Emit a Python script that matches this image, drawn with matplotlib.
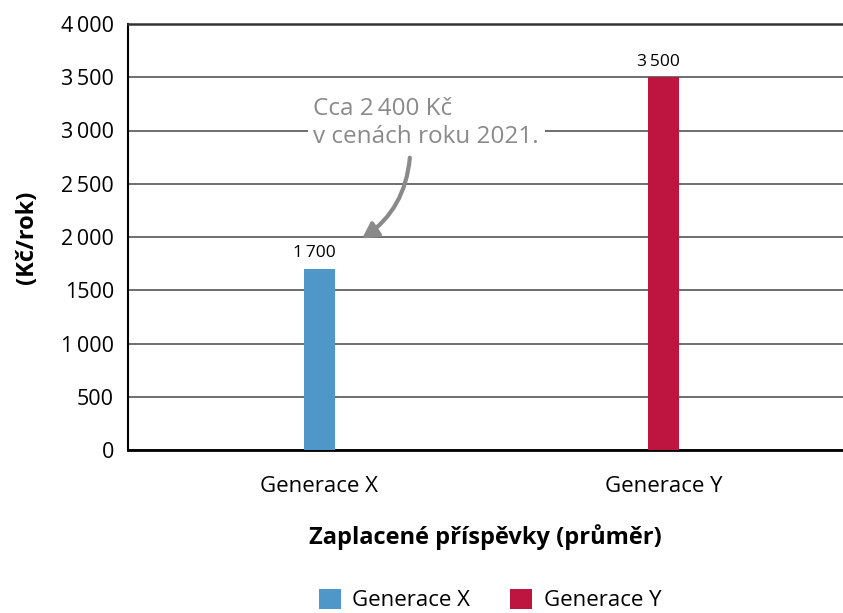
import matplotlib
matplotlib.use("Agg")
import matplotlib.pyplot as plt
from matplotlib.patches import Patch

categories = ["Generace X", "Generace Y"]
values = [1700, 3500]
value_labels = ["1\u2009700", "3\u2009500"]
yticks = [0, 500, 1000, 1500, 2000, 2500, 3000, 3500, 4000]
ytick_labels = ["0", "500", "1\u2009000", "1500", "2\u2009000", "2\u2009500", "3\u2009000", "3\u2009500", "4\u2009000"]
colors = ["#4f97c9", "#be1540"]

plt.rcParams['font.family'] = ['Open Sans', 'DejaVu Sans']

fig = plt.figure(figsize=(8.43, 6.13), dpi=100)
W, H = 843, 613
ax = fig.add_axes([128 / W, 1 - 450 / H, (843 - 128) / W, (450 - 24) / H])

x = list(range(len(categories)))
ax.bar(x, values, width=0.09, color=colors, zorder=3)
ax.set_xlim(-0.556, 1.52)
ax.set_ylim(0, 4000)
ax.set_yticks(yticks)
ax.set_yticklabels(ytick_labels, fontsize=15.5)
ax.set_xticks(x)
ax.set_xticklabels(categories, fontsize=16)
ax.tick_params(axis='y', length=0, pad=10)
ax.tick_params(axis='x', length=0, pad=19)
ax.grid(axis='y', color='#555555', linewidth=1.2, zorder=0)
ax.spines['right'].set_visible(False)
ax.spines['top'].set_linewidth(1.8)
ax.spines['top'].set_color('#333333')
ax.spines['left'].set_linewidth(1.5)
ax.spines['bottom'].set_linewidth(2)

for xi, v, lab in zip(x, values, value_labels):
    ax.text(xi - 0.015, v + 70, lab, ha='center', va='bottom', fontsize=12.5)

ax.set_ylabel("(Kč/rok)", fontsize=17, fontweight='bold', labelpad=16)
ax.set_xlabel("Zaplacené příspěvky (průměr)", fontsize=17, fontweight='bold', labelpad=19)

# annotation
ax.text(0.31, 3070, "Cca 2\u2009400 Kč\nv cenách roku 2021.", ha='center', va='center',
        multialignment='left', fontsize=17.5, color='#8a8a8a', linespacing=1.2,
        bbox=dict(facecolor='white', edgecolor='none', pad=4), zorder=5)
ax.annotate("", xy=(0.117, 1972), xytext=(0.263, 2770),
            arrowprops=dict(arrowstyle='-|>,head_length=0.9,head_width=0.5',
                            color='#8a8a8a', lw=3, connectionstyle='arc3,rad=-0.25'),
            zorder=5)

handles = [Patch(facecolor=c, label=l) for c, l in zip(colors, categories)]
fig.legend(handles=handles, loc='center', bbox_to_anchor=(490 / W, 1 - 600 / H), ncol=2,
           frameon=False, fontsize=16, handlelength=1.0, handleheight=1.0,
           handletextpad=0.5, columnspacing=1.8)

fig.savefig("out.png", dpi=100)
